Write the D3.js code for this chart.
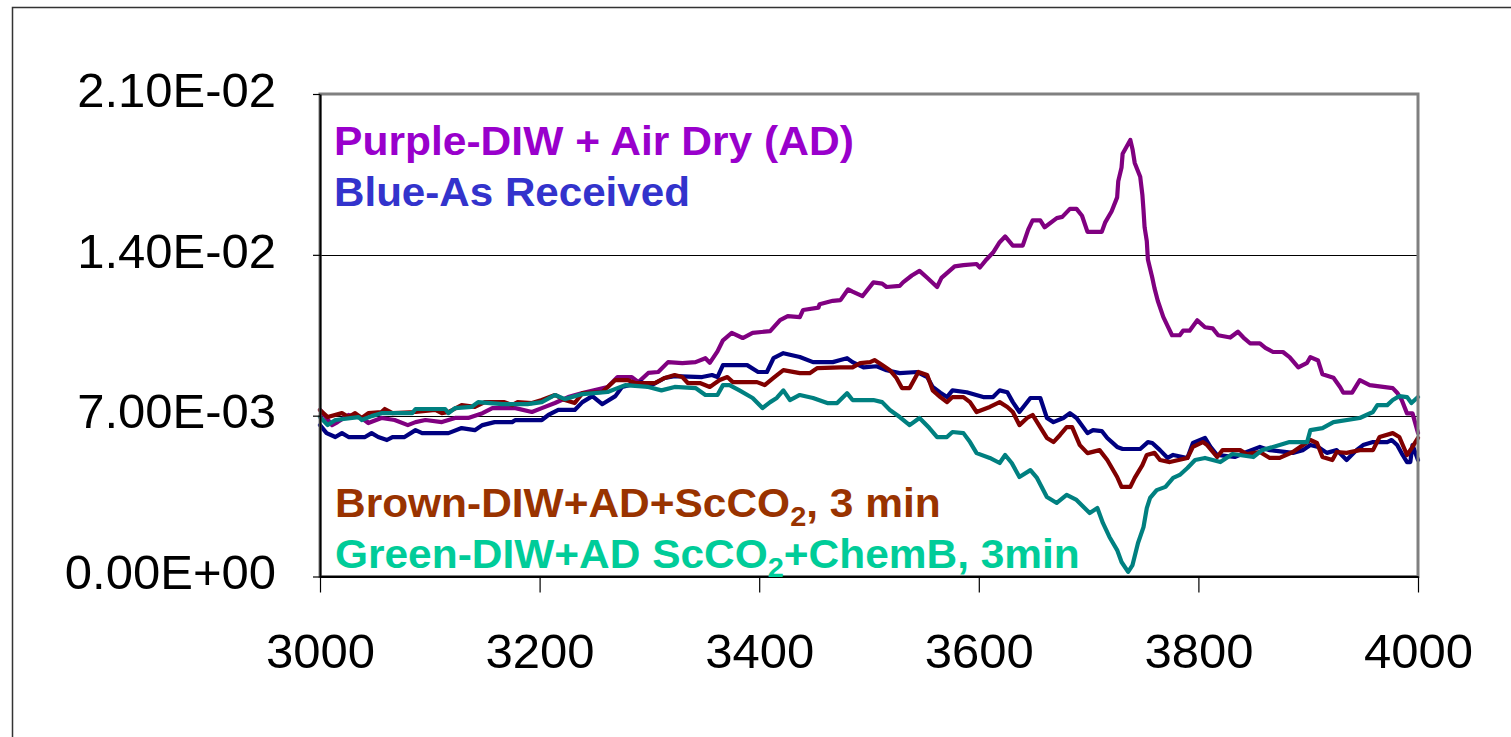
<!DOCTYPE html>
<html>
<head>
<meta charset="utf-8">
<script src="https://cdn.jsdelivr.net/npm/d3@7"></script>
<style>
  body { margin: 0; background: #fff; }
  svg { display: block; }
</style>
</head>
<body>
<script>
// wavenumber ticks and absorbance ticks
const xTicks = [3000, 3200, 3400, 3600, 3800, 4000];
const yTicks = [0, 7e-3, 14e-3, 21e-3];

// [wavenumber, absorbance]
const purple = [[3000,7.25e-3],[3011,6.59e-3],[3016,6.72e-3],[3026,7.03e-3],[3038,6.90e-3],[3044,6.68e-3],[3056,6.90e-3],[3068,6.81e-3],[3080,6.59e-3],[3087,6.72e-3],
  [3096,6.81e-3],[3111,6.72e-3],[3123,6.90e-3],[3135,6.90e-3],[3148,7.11e-3],[3157,7.33e-3],[3178,7.33e-3],[3193,7.16e-3],[3202,7.33e-3],[3214,7.55e-3],
  [3226,7.81e-3],[3239,7.98e-3],[3262,8.25e-3],[3271,8.68e-3],[3284,8.68e-3],[3290,8.46e-3],[3299,8.86e-3],[3308,8.90e-3],[3317,9.33e-3],[3330,9.29e-3],
  [3342,9.33e-3],[3351,9.50e-3],[3355,9.30e-3],[3362,9.80e-3],[3367,10.28e-3],[3375,10.60e-3],[3385,10.38e-3],[3394,10.60e-3],[3410,10.68e-3],[3419,11.16e-3],
  [3426,11.33e-3],[3437,11.29e-3],[3440,11.60e-3],[3454,11.70e-3],[3455,11.85e-3],[3467,12.00e-3],[3474,12.03e-3],[3481,12.50e-3],[3485,12.40e-3],[3494,12.20e-3],
  [3504,12.80e-3],[3512,12.75e-3],[3516,12.60e-3],[3528,12.65e-3],[3531,12.80e-3],[3539,13.10e-3],[3546,13.30e-3],[3553,13.00e-3],[3562,12.60e-3],[3566,13.00e-3],
  [3578,13.50e-3],[3586,13.55e-3],[3598,13.60e-3],[3601,13.45e-3],[3607,13.80e-3],[3613,14.10e-3],[3619,14.55e-3],[3624,14.80e-3],[3631,14.40e-3],[3640,14.40e-3],
  [3645,15.10e-3],[3649,15.50e-3],[3656,15.50e-3],[3660,15.20e-3],[3671,15.60e-3],[3676,15.65e-3],[3683,16.00e-3],[3689,16.00e-3],[3694,15.70e-3],[3699,15.00e-3],
  [3712,15.00e-3],[3715,15.40e-3],[3721,15.90e-3],[3726,16.50e-3],[3727,17.20e-3],[3730,17.80e-3],[3731,18.40e-3],[3738,19.00e-3],[3740,18.60e-3],[3742,18.00e-3],
  [3747,17.40e-3],[3749,16.60e-3],[3750,15.95e-3],[3751,15.20e-3],[3753,14.60e-3],[3754,13.80e-3],[3758,13.00e-3],[3760,12.55e-3],[3763,12.00e-3],[3768,11.30e-3],
  [3772,10.90e-3],[3776,10.50e-3],[3783,10.50e-3],[3786,10.70e-3],[3792,10.70e-3],[3799,11.15e-3],[3806,10.85e-3],[3813,10.80e-3],[3818,10.50e-3],[3829,10.40e-3],
  [3836,10.65e-3],[3841,10.40e-3],[3847,10.15e-3],[3856,10.15e-3],[3861,9.95e-3],[3868,9.77e-3],[3877,9.77e-3],[3883,9.55e-3],[3891,9.10e-3],[3899,9.30e-3],
  [3902,9.55e-3],[3909,9.40e-3],[3913,8.80e-3],[3923,8.65e-3],[3929,8.25e-3],[3932,8.00e-3],[3940,8.00e-3],[3947,8.55e-3],[3956,8.33e-3],[3977,8.20e-3],
  [3981,8.00e-3],[3985,7.70e-3],[3990,7.10e-3],[3995,7.10e-3],[4000,6.25e-3]];

const blue = [[3000,6.59e-3],[3006,6.24e-3],[3014,6.07e-3],[3020,6.24e-3],[3026,6.07e-3],[3041,6.07e-3],[3047,6.24e-3],[3053,6.07e-3],[3061,5.94e-3],[3066,6.07e-3],
  [3077,6.07e-3],[3087,6.37e-3],[3093,6.24e-3],[3117,6.24e-3],[3129,6.46e-3],[3141,6.37e-3],[3148,6.59e-3],[3159,6.72e-3],[3175,6.72e-3],[3178,6.81e-3],
  [3202,6.81e-3],[3208,7.03e-3],[3217,7.25e-3],[3232,7.25e-3],[3239,7.59e-3],[3248,7.85e-3],[3257,7.50e-3],[3269,7.85e-3],[3275,8.25e-3],[3293,8.46e-3],
  [3299,8.25e-3],[3314,8.64e-3],[3323,8.72e-3],[3348,8.68e-3],[3357,8.77e-3],[3362,8.68e-3],[3367,9.20e-3],[3389,9.20e-3],[3399,8.90e-3],[3407,8.90e-3],
  [3413,9.50e-3],[3422,9.72e-3],[3428,9.65e-3],[3437,9.55e-3],[3449,9.33e-3],[3467,9.33e-3],[3474,9.42e-3],[3480,9.50e-3],[3485,9.33e-3],[3495,9.10e-3],
  [3507,9.15e-3],[3516,8.98e-3],[3528,8.85e-3],[3544,8.90e-3],[3553,8.68e-3],[3558,8.25e-3],[3565,8.00e-3],[3571,7.81e-3],[3576,8.10e-3],[3589,8.02e-3],
  [3604,7.81e-3],[3613,7.81e-3],[3619,8.10e-3],[3626,8.02e-3],[3631,7.59e-3],[3637,7.16e-3],[3647,7.77e-3],[3656,7.77e-3],[3662,6.90e-3],[3668,6.72e-3],
  [3677,6.90e-3],[3683,7.11e-3],[3689,6.90e-3],[3699,6.24e-3],[3704,6.37e-3],[3712,6.33e-3],[3717,6.03e-3],[3726,5.64e-3],[3731,5.55e-3],[3747,5.55e-3],
  [3754,5.85e-3],[3758,5.81e-3],[3765,5.50e-3],[3772,5.16e-3],[3777,5.29e-3],[3790,5.16e-3],[3795,5.81e-3],[3806,6.03e-3],[3811,5.64e-3],[3817,5.29e-3],
  [3833,5.20e-3],[3844,5.42e-3],[3856,5.64e-3],[3865,5.50e-3],[3886,5.38e-3],[3895,5.50e-3],[3902,5.72e-3],[3909,5.64e-3],[3917,5.38e-3],[3926,5.50e-3],
  [3935,5.07e-3],[3944,5.50e-3],[3950,5.72e-3],[3959,5.85e-3],[3972,5.85e-3],[3976,5.94e-3],[3981,5.72e-3],[3986,5.29e-3],[3990,4.98e-3],[3993,4.98e-3],
  [3995,5.72e-3],[4000,5.07e-3]];

const brown = [[3000,7.25e-3],[3007,6.94e-3],[3020,7.11e-3],[3026,6.94e-3],[3032,7.11e-3],[3038,6.90e-3],[3044,7.11e-3],[3056,7.16e-3],[3059,7.29e-3],[3066,7.11e-3],
  [3087,7.16e-3],[3105,7.25e-3],[3111,7.11e-3],[3117,7.16e-3],[3129,7.46e-3],[3141,7.38e-3],[3150,7.59e-3],[3168,7.59e-3],[3175,7.46e-3],[3180,7.59e-3],
  [3193,7.55e-3],[3202,7.68e-3],[3214,7.90e-3],[3223,7.68e-3],[3232,7.55e-3],[3239,7.98e-3],[3257,8.03e-3],[3269,8.55e-3],[3280,8.55e-3],[3287,8.42e-3],
  [3305,8.42e-3],[3314,8.64e-3],[3323,8.77e-3],[3330,8.68e-3],[3335,8.42e-3],[3346,8.42e-3],[3355,8.25e-3],[3364,8.55e-3],[3371,8.68e-3],[3376,8.46e-3],
  [3398,8.46e-3],[3405,8.33e-3],[3413,8.64e-3],[3422,8.98e-3],[3437,8.85e-3],[3446,8.85e-3],[3453,9.07e-3],[3474,9.10e-3],[3485,9.10e-3],[3492,9.29e-3],
  [3501,9.33e-3],[3505,9.42e-3],[3512,9.20e-3],[3519,8.98e-3],[3525,8.64e-3],[3530,8.20e-3],[3537,8.20e-3],[3542,8.64e-3],[3545,8.90e-3],[3553,8.77e-3],
  [3558,8.10e-3],[3565,7.81e-3],[3571,7.59e-3],[3576,7.81e-3],[3586,7.81e-3],[3592,7.59e-3],[3598,7.16e-3],[3610,7.38e-3],[3619,7.59e-3],[3626,7.38e-3],
  [3631,7.16e-3],[3637,6.59e-3],[3644,6.90e-3],[3649,7.03e-3],[3662,6.03e-3],[3668,5.85e-3],[3674,6.16e-3],[3680,6.50e-3],[3685,6.50e-3],[3692,5.72e-3],
  [3699,5.37e-3],[3710,5.50e-3],[3717,5.07e-3],[3726,4.33e-3],[3730,3.90e-3],[3738,3.90e-3],[3742,4.29e-3],[3749,4.85e-3],[3753,5.29e-3],[3760,5.38e-3],
  [3765,5.07e-3],[3774,4.98e-3],[3790,5.16e-3],[3795,5.64e-3],[3804,5.85e-3],[3808,5.72e-3],[3817,5.20e-3],[3822,5.50e-3],[3838,5.50e-3],[3844,5.33e-3],
  [3856,5.42e-3],[3865,5.16e-3],[3874,5.16e-3],[3886,5.42e-3],[3902,5.94e-3],[3908,5.81e-3],[3913,5.20e-3],[3922,5.07e-3],[3926,5.42e-3],[3935,5.38e-3],
  [3947,5.50e-3],[3959,5.50e-3],[3965,6.07e-3],[3977,6.24e-3],[3983,6.07e-3],[3990,5.29e-3],[3995,5.64e-3],[4000,6.03e-3]];

const teal = [[3000,6.94e-3],[3007,6.59e-3],[3014,6.81e-3],[3035,6.94e-3],[3038,6.81e-3],[3047,6.98e-3],[3056,7.11e-3],[3084,7.11e-3],[3087,7.29e-3],[3114,7.29e-3],
  [3117,7.11e-3],[3123,7.33e-3],[3138,7.38e-3],[3144,7.59e-3],[3166,7.50e-3],[3189,7.50e-3],[3202,7.59e-3],[3214,7.90e-3],[3223,7.72e-3],[3239,7.94e-3],
  [3262,8.03e-3],[3278,8.33e-3],[3299,8.25e-3],[3311,8.10e-3],[3323,8.25e-3],[3342,8.20e-3],[3351,7.90e-3],[3362,7.90e-3],[3367,8.33e-3],[3373,8.33e-3],
  [3382,8.10e-3],[3394,7.77e-3],[3403,7.33e-3],[3410,7.59e-3],[3416,7.77e-3],[3422,8.10e-3],[3428,7.68e-3],[3437,7.90e-3],[3449,7.77e-3],[3462,7.55e-3],
  [3471,7.55e-3],[3480,7.98e-3],[3485,7.68e-3],[3504,7.68e-3],[3512,7.59e-3],[3519,7.25e-3],[3528,6.94e-3],[3537,6.59e-3],[3546,6.90e-3],[3555,6.46e-3],
  [3562,6.07e-3],[3571,6.07e-3],[3576,6.29e-3],[3586,6.24e-3],[3592,5.85e-3],[3598,5.37e-3],[3610,5.16e-3],[3619,4.94e-3],[3624,5.29e-3],[3630,4.94e-3],
  [3637,4.33e-3],[3647,4.63e-3],[3653,4.29e-3],[3662,3.46e-3],[3671,3.20e-3],[3680,3.55e-3],[3689,3.33e-3],[3701,2.76e-3],[3708,2.98e-3],[3713,2.33e-3],
  [3719,1.72e-3],[3726,1.15e-3],[3730,0.63e-3],[3736,0.20e-3],[3740,0.50e-3],[3745,1.46e-3],[3750,2.15e-3],[3753,2.98e-3],[3756,3.42e-3],[3762,3.76e-3],
  [3770,3.90e-3],[3777,4.29e-3],[3783,4.42e-3],[3790,4.72e-3],[3797,5.07e-3],[3806,5.16e-3],[3820,4.98e-3],[3831,5.33e-3],[3850,5.20e-3],[3858,5.50e-3],
  [3874,5.72e-3],[3883,5.85e-3],[3899,5.85e-3],[3902,6.37e-3],[3913,6.46e-3],[3923,6.72e-3],[3947,6.90e-3],[3959,7.16e-3],[3963,7.46e-3],[3972,7.46e-3],
  [3977,7.68e-3],[3983,7.85e-3],[3990,7.81e-3],[3994,7.55e-3],[4000,7.81e-3]];

const seriesNames = ["purple", "blue", "brown", "teal"];
const seriesData = [purple, blue, brown, teal];
const lineColors = ["#800080", "#000080", "#800000", "#008080"];

// legend text, subscripts split out as separate parts
const legendLabels = [
  [["Purple-DIW + Air Dry (AD)", false]],
  [["Blue-As Received", false]],
  [["Brown-DIW+AD+ScCO", false], ["2", true], [", 3 min", false]],
  [["Green-DIW+AD ScCO", false], ["2", true], ["+ChemB, 3min", false]]
];
const legendColors = ["#9900CC", "#3333CC", "#993300", "#00CC99"];

const W = 1511, H = 737;
const plot = { left: 320, right: 1418, top: 94, bottom: 576.5 };
const FONT = "'Liberation Sans', Arial, Helvetica, sans-serif";

const svg = d3.select("body").append("svg")
  .attr("width", W)
  .attr("height", H)
  .style("background", "#fff");

// outer chart border (runs past the window on right and bottom)
svg.append("rect")
  .attr("x", 12.5).attr("y", 7.5)
  .attr("width", 1700).attr("height", 900)
  .attr("fill", "none")
  .attr("stroke", "#333")
  .attr("stroke-width", 1.5);

const x = d3.scaleLinear().domain([3000, 4000]).range([plot.left, plot.right]);
const y = d3.scaleLinear().domain([0, 0.021]).range([plot.bottom, plot.top]);

// gridlines
svg.append("g")
  .selectAll("line")
  .data(yTicks.filter((d) => d > 0 && d < 0.021))
  .enter()
  .append("line")
  .attr("x1", plot.left).attr("x2", plot.right)
  .attr("y1", (d) => Math.round(y(d)) + 0.5)
  .attr("y2", (d) => Math.round(y(d)) + 0.5)
  .attr("stroke", "#000")
  .attr("stroke-width", 1.2);

// series
const line = d3.line()
  .x((d) => x(d[0]))
  .y((d) => y(d[1]));

svg.append("g")
  .selectAll("path")
  .data(seriesData)
  .enter()
  .append("path")
  .attr("class", (d, i) => "series " + seriesNames[i])
  .attr("d", line)
  .attr("fill", "none")
  .attr("stroke", (d, i) => lineColors[i])
  .attr("stroke-width", 4.2)
  .attr("stroke-linejoin", "round")
  .attr("stroke-linecap", "round");

// plot frame
svg.append("rect")
  .attr("x", plot.left).attr("y", plot.top)
  .attr("width", plot.right - plot.left)
  .attr("height", plot.bottom - plot.top)
  .attr("fill", "none")
  .attr("stroke", "#808080")
  .attr("stroke-width", 3);

// y axis, labels like 2.10E-02
function fmtE(v) {
  const [m, e] = v.toExponential(2).split("e");
  return m + "E" + e[0] + e.slice(1).padStart(2, "0");
}

const yAxis = svg.append("g")
  .attr("transform", `translate(${plot.left},0)`)
  .call(d3.axisLeft(y).tickValues(yTicks).tickSize(7).tickSizeOuter(0).tickPadding(37).tickFormat(fmtE));

const xAxis = svg.append("g")
  .attr("transform", `translate(0,${plot.bottom})`)
  .call(d3.axisBottom(x).tickValues(xTicks).tickSize(16).tickSizeOuter(0).tickPadding(41).tickFormat(d3.format("d")));

[yAxis, xAxis].forEach((g) => {
  g.select(".domain").attr("stroke", "#000").attr("stroke-width", 2);
  g.selectAll(".tick line").attr("stroke", "#000").attr("stroke-width", 1.2);
  g.selectAll(".tick text")
    .attr("fill", "#000")
    .style("font-family", FONT)
    .style("font-size", "49px");
});
yAxis.selectAll(".tick text").attr("dy", "0.25em");

// legend texts inside the plot
const legendPos = [
  { x: 334, y: 155, w: 520 },
  { x: 334, y: 206, w: 356 },
  { x: 335, y: 517, w: 606 },
  { x: 335, y: 568, w: 745 }
];

legendLabels.forEach((parts, i) => {
  const p = legendPos[i];
  const t = svg.append("text")
    .attr("transform", `translate(${p.x},${p.y})`)
    .attr("fill", legendColors[i])
    .style("font-family", FONT)
    .style("font-weight", "bold")
    .style("font-size", "41px");
  parts.forEach(([str, sub]) => {
    const s = t.append("tspan").text(str);
    if (sub) s.attr("dy", 9).style("font-size", "28px");
    else if (t.selectAll("tspan").size() > 1) s.attr("dy", -9);
  });
  const len = t.node().getComputedTextLength();
  t.attr("transform", `translate(${p.x},${p.y}) scale(${p.w / len},1)`);
});
</script>
</body>
</html>
